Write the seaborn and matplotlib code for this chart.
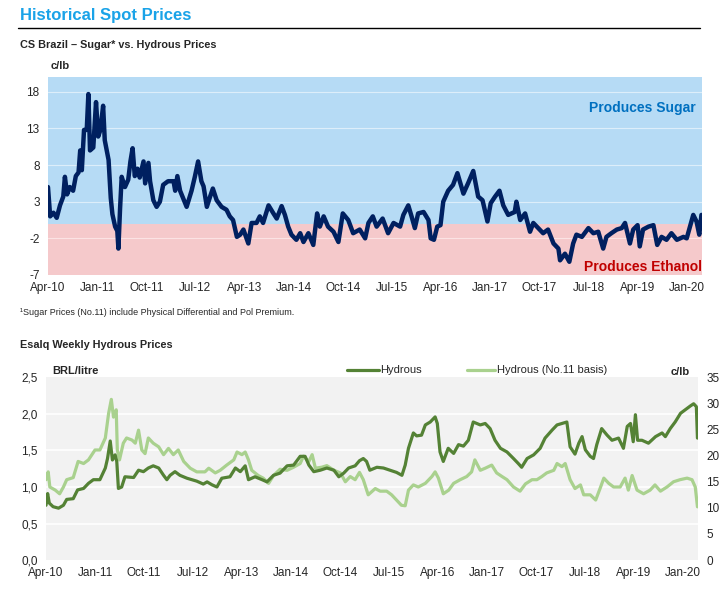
import matplotlib
matplotlib.use("Agg")
import matplotlib.pyplot as plt
import seaborn as sns

# x positions are months counted from Apr-10
date_labels = ['Apr-10', 'Jan-11', 'Oct-11', 'Jul-12', 'Apr-13', 'Jan-14', 'Oct-14',
               'Jul-15', 'Apr-16', 'Jan-17', 'Oct-17', 'Jul-18', 'Apr-19', 'Jan-20']
label_months = [0, 9, 18, 27, 36, 45, 54, 63, 72, 81, 90, 99, 108, 117]

# Sugar (No.11 incl. differentials) minus hydrous equivalent, c/lb
spread_months = [0, 0.4, 1.0, 1.6, 2.2, 2.8, 3.1, 3.5, 4.0, 4.6, 5.1, 5.6, 5.9, 6.2, 6.6,
                 7.1, 7.4, 7.7, 8.3, 8.8, 9.2, 9.6, 10.1, 10.4, 11.1, 11.5, 11.8, 12.3,
                 12.7, 12.9, 13.2, 13.5, 14.1, 14.7, 15.1, 15.5, 15.9, 16.4, 16.8, 17.5,
                 17.8, 18.4, 18.7, 19.3, 19.9, 20.5, 21.1, 22.0, 23.0, 23.3, 23.7, 24.2,
                 25.4, 26.3, 26.9, 27.5, 28.1, 28.5, 29.1, 29.7, 30.2, 30.9, 31.8, 32.7,
                 33.3, 33.9, 34.6, 35.2, 35.8, 36.7, 37.3, 38.2, 38.8, 39.4, 40.4, 41.3,
                 41.9, 42.8, 43.4, 44.0, 44.6, 45.5, 46.2, 46.8, 47.7, 48.6, 49.3, 49.8,
                 50.5, 51.3, 52.3, 53.2, 54.0, 55.0, 55.9, 57.1, 58.1, 58.7, 59.5, 60.2,
                 61.3, 62.3, 63.3, 64.5, 65.1, 66.0, 66.6, 67.2, 67.8, 68.8, 69.7, 70.1,
                 70.7, 71.3, 71.9, 72.4, 73.3, 74.2, 75.0, 76.1, 77.0, 77.9, 78.8, 79.6,
                 80.5, 81.1, 81.9, 82.7, 83.4, 84.3, 85.5, 85.8, 86.5, 87.4, 88.3, 88.9,
                 89.8, 90.7, 91.6, 92.6, 93.5, 93.8, 94.7, 95.5, 96.2, 96.8, 97.8, 99.0,
                 99.9, 100.8, 101.7, 102.3, 103.2, 104.2, 105.1, 105.7, 106.6, 107.2,
                 108.0, 108.4, 109.0, 110.0, 110.9, 111.6, 112.4, 113.3, 114.2, 115.2,
                 116.4, 117.0, 117.6, 118.2, 118.8, 119.3, 119.7]
spread_values = [5.0, 1.0, 1.5, 0.8, 2.5, 3.7, 6.4, 4.0, 5.0, 4.5, 6.5, 7.0, 10.0, 7.3, 12.8,
                 12.8, 17.7, 10.0, 10.4, 16.6, 11.9, 12.8, 16.1, 11.4, 8.7, 3.5, 1.3, -0.4,
                 -1.0, -3.4, 2.0, 6.4, 5.0, 6.0, 8.5, 10.3, 6.5, 7.5, 6.3, 8.5,
                 5.5, 8.3, 5.8, 3.2, 2.3, 3.0, 5.3, 5.8, 5.8, 4.5, 6.5, 4.5,
                 2.3, 4.5, 6.4, 8.5, 5.8, 5.1, 2.3, 3.7, 4.8, 3.2, 2.3, 1.9,
                 1.0, 0.5, -1.8, -1.5, -0.8, -2.7, 0.1, 0.1, 1.0, 0.1, 2.5, 1.4,
                 0.7, 2.4, 1.2, -0.4, -1.5, -2.2, -1.3, -2.5, -1.3, -2.9, 1.4, -0.4,
                 1.0, -0.4, -1.1, -2.5, 1.4, 0.5, -1.3, -0.8, -2.0, 0.1, 1.0, -0.4,
                 0.7, -1.3, 0.1, -0.4, 1.2, 2.5, 1.0, -0.6, 1.4, 1.6, 0.5, -2.0,
                 -2.2, -0.4, -0.2, 3.0, 4.5, 5.3, 6.9, 4.1, 5.6, 7.2, 3.7, 3.2,
                 0.3, 2.8, 3.7, 4.5, 2.5, 1.2, 1.6, 3.0, 0.5, 1.4, -1.1, 0.1,
                 -0.6, -1.3, -0.8, -2.7, -3.4, -5.0, -4.1, -5.2, -2.7, -1.5, -1.8, -0.6,
                 -1.3, -1.1, -3.4, -1.8, -1.3, -0.8, -0.6, 0.1, -2.7, -0.8,
                 -0.2, -3.1, -0.8, -0.4, -0.2, -2.9, -1.8, -2.2, -1.3, -2.2,
                 -1.8, -2.0, -0.4, 1.2, 0.3, -1.5, 1.2]

# Esalq hydrous, BRL/litre
hydrous_months = [0, 0.3, 0.6, 1.3, 2.3, 3.2, 3.8, 5.0, 5.8, 6.9, 7.8, 8.7, 9.9, 10.9, 11.3,
                  11.8, 12.2, 12.7, 13.0, 13.3, 13.9, 14.5, 16.1, 17.0, 17.9, 18.8, 19.7,
                  20.7, 21.6, 22.2, 22.8, 23.7, 24.6, 25.9, 27.7, 28.9, 29.6, 30.5, 31.4,
                  32.3, 33.8, 34.8, 35.7, 36.6, 37.2, 38.4, 39.7, 40.6, 41.8, 43.0, 44.3,
                  45.5, 46.7, 47.6, 48.3, 49.2, 50.4, 51.6, 52.9, 53.8, 54.7, 55.6, 56.8,
                  57.6, 58.3, 58.9, 59.5, 60.8, 62.0, 63.2, 64.4, 65.4, 66.0, 66.6, 67.5,
                  68.1, 69.0, 69.7, 70.6, 71.5, 71.9, 72.4, 73.0, 73.9, 74.9, 75.8, 76.7,
                  77.6, 78.5, 79.8, 80.7, 81.6, 82.5, 83.5, 84.7, 85.9, 86.8, 87.4, 88.4,
                  89.6, 90.8, 91.7, 93.0, 93.9, 94.8, 95.7, 96.3, 97.2, 97.9, 98.5, 99.1,
                  100.0, 100.6, 101.2, 102.1, 103.1, 104.0, 105.2, 106.1, 106.8, 107.4,
                  107.9, 108.3, 108.7, 109.5, 110.7, 112.0, 113.2, 113.8, 114.7, 115.6,
                  116.6, 117.5, 118.4, 119.0, 119.5, 119.7]
hydrous_brl = [0.75, 0.91, 0.78, 0.73, 0.71, 0.75, 0.83, 0.84, 0.96, 0.98, 1.05, 1.10, 1.10,
               1.26, 1.39, 1.63, 1.37, 1.44, 1.35, 0.98, 1.00, 1.14, 1.13, 1.23, 1.21, 1.26,
               1.29, 1.26, 1.16, 1.10, 1.16, 1.21, 1.16, 1.12, 1.08, 1.04, 1.07, 1.03, 1.00,
               1.12, 1.14, 1.26, 1.21, 1.29, 1.10, 1.14, 1.10, 1.07, 1.16, 1.19, 1.29,
               1.30, 1.42, 1.42, 1.30, 1.21, 1.23, 1.26, 1.23, 1.14, 1.19, 1.26, 1.29,
               1.36, 1.39, 1.35, 1.23, 1.27, 1.26, 1.23, 1.20, 1.16, 1.30, 1.53, 1.74,
               1.70, 1.71, 1.85, 1.89, 1.96, 1.87, 1.48, 1.35, 1.53, 1.46, 1.58, 1.56,
               1.64, 1.89, 1.85, 1.87, 1.80, 1.64, 1.53, 1.48, 1.39, 1.32, 1.27, 1.39,
               1.44, 1.53, 1.67, 1.78, 1.85, 1.87, 1.89, 1.55, 1.45, 1.60, 1.69, 1.51,
               1.42, 1.39, 1.58, 1.80, 1.71, 1.64, 1.67, 1.53, 1.83, 1.87,
               1.62, 1.99, 1.64, 1.64, 1.60, 1.69, 1.74, 1.69, 1.80, 1.89,
               2.01, 2.06, 2.11, 2.14, 2.10, 1.67]

# Hydrous on No.11 basis, c/lb
basis_months = [0, 0.4, 0.7, 1.7, 2.5, 3.2, 3.8, 5.0, 5.9, 6.9, 7.8, 9.0, 9.9, 10.9, 11.5,
                12.0, 12.4, 12.9, 13.1, 13.5, 14.2, 14.8, 15.8, 16.4, 17.0, 17.6, 18.2,
                18.8, 19.7, 20.7, 21.6, 22.5, 23.4, 24.3, 25.3, 26.5, 27.7, 29.2, 29.9,
                31.1, 32.0, 33.2, 34.5, 35.1, 36.0, 36.6, 37.2, 37.8, 39.0, 39.9, 40.9,
                41.8, 43.0, 44.3, 45.5, 46.7, 47.3, 48.3, 48.9, 49.5, 50.7, 51.6, 52.9,
                54.1, 55.0, 55.9, 56.8, 57.6, 58.3, 59.2, 60.5, 61.4, 62.6, 63.5, 64.4,
                65.3, 66.0, 66.6, 67.5, 68.4, 69.7, 70.9, 71.5, 72.1, 73.0, 74.0, 74.9,
                76.1, 77.3, 78.2, 78.8, 79.8, 80.7, 81.9, 82.8, 83.8, 84.7, 85.9, 87.1,
                88.1, 89.3, 90.2, 91.1, 92.0, 93.3, 93.9, 94.8, 95.4, 96.3, 97.2, 98.2,
                98.8, 100.0, 101.0, 101.8, 102.5, 103.4, 104.3, 105.5, 106.4, 107.0,
                107.7, 108.6, 109.8, 111.0, 111.9, 112.9, 114.1, 115.3, 116.5, 117.8,
                118.7, 119.3, 119.7]
basis_clb = [15.4, 16.9, 14.0, 13.4, 12.7, 14.0, 15.4, 15.8, 18.9, 18.5, 19.2, 21.1, 21.1,
             23.4, 28.1, 30.8, 27.4, 28.8, 21.1, 19.2, 22.4, 23.4, 23.0, 22.4, 24.9, 21.1,
             20.4, 23.4, 22.4, 21.7, 20.2, 21.4, 20.2, 21.1, 18.9, 17.6, 16.9, 16.9, 17.6,
             16.7, 17.2, 18.2, 19.2, 20.7, 20.2, 20.7, 19.2, 17.2, 16.2, 15.7, 14.7,
             16.2, 17.4, 17.2, 17.8, 18.5, 19.9, 18.9, 20.2, 17.6, 17.8, 18.1, 17.2,
             16.7, 15.0, 16.0, 15.4, 16.8, 15.4, 12.5, 13.7, 13.2, 13.2, 12.5, 11.5,
             10.5, 10.4, 13.4, 14.4, 14.0, 14.7, 16.0, 16.9, 15.7, 12.7, 13.4, 14.7,
             15.4, 16.0, 16.9, 19.2, 17.2, 17.6, 18.2, 16.7, 16.0, 15.4, 14.0, 13.2,
             14.6, 15.4, 15.4, 16.0, 16.7, 17.2, 18.5, 17.9, 18.5, 15.4, 13.7, 14.4,
             12.5, 12.5, 11.5, 13.7, 15.7, 14.7, 14.0, 14.0, 15.7, 13.4,
             16.2, 13.4, 12.7, 13.4, 14.4, 13.2, 14.0, 15.0, 15.4, 15.7,
             15.4, 14.0, 10.2]

top_ticks = [-7, -2, 3, 8, 13, 18]
left_ticks = [0.0, 0.5, 1.0, 1.5, 2.0, 2.5]
right_ticks = [0, 5, 10, 15, 20, 25, 30, 35]

sns.set_style("white")
plt.rcParams['font.family'] = ['Liberation Sans', 'DejaVu Sans']
plt.rcParams['axes.unicode_minus'] = False

fig = plt.figure(figsize=(7.27, 6.03), dpi=100)

# Header
fig.text(0.027, 0.975, "Historical Spot Prices", fontsize=12, fontweight='bold',
         color='#1AA3E8', va='center')
fig.add_artist(plt.Line2D([0.025, 0.963], [0.953, 0.953], color='black', linewidth=1.0))
fig.text(0.027, 0.925, "CS Brazil \u2013 Sugar* vs. Hydrous Prices", fontsize=7.8,
         fontweight='bold', va='center')

# Top chart: sugar vs hydrous spread
ax1 = fig.add_axes([0.066, 0.544, 0.8996, 0.328])
ax1.axhspan(0, 20, color='#B6DBF5', zorder=0, linewidth=0)
ax1.axhspan(-7, 0, color='#F5C9CB', zorder=0, linewidth=0)
for t in top_ticks[1:]:
    ax1.axhline(t, color='#DDEEFA' if t > 0 else '#FBE3E4', linewidth=0.8, zorder=1)
sns.lineplot(x=spread_months, y=spread_values, ax=ax1, color='#002060', linewidth=3.2,
             zorder=3)
ax1.set_xlim(0, 119.8)
ax1.set_ylim(-7, 20)
ax1.set_yticks(top_ticks)
ax1.set_xticks(label_months)
ax1.set_xticklabels(date_labels)
ax1.tick_params(axis='both', labelsize=8.5, length=0, pad=6)
ax1.tick_params(axis='x', pad=5)
ax1.set_xlabel('')
ax1.set_ylabel('')
for s in ax1.spines.values():
    s.set_visible(False)
ax1.text(0.004, 1.03, "c/lb", transform=ax1.transAxes, fontsize=8, fontweight='bold',
         va='bottom')
ax1.text(0.99, 0.845, "Produces Sugar", transform=ax1.transAxes, fontsize=10,
         fontweight='bold', color='#0070C0', ha='right', va='center')
ax1.text(1.0, 0.04, "Produces Ethanol", transform=ax1.transAxes, fontsize=10,
         fontweight='bold', color='#C00000', ha='right', va='center')

fig.text(0.027, 0.481, "\u00b9Sugar Prices (No.11) include Physical Differential and Pol Premium.",
         fontsize=6.5, va='center')
fig.text(0.027, 0.428, "Esalq Weekly Hydrous Prices", fontsize=7.8, fontweight='bold',
         va='center')

# Bottom chart: Esalq hydrous prices (light series on right axis, drawn underneath)
ax2 = fig.add_axes([0.0633, 0.0713, 0.8968, 0.3027])
ax3 = ax2.twinx()
ax3.set_zorder(0)
ax2.set_zorder(1)
ax2.patch.set_visible(False)
ax3.patch.set_visible(True)
ax3.patch.set_facecolor('#F2F2F2')
for t in left_ticks[1:-1]:
    ax3.axhline(t * 14, color='white', linewidth=1.2, zorder=1)

sns.lineplot(x=basis_months, y=basis_clb, ax=ax3, color='#A9D18E', linewidth=2.3, zorder=2)
sns.lineplot(x=hydrous_months, y=hydrous_brl, ax=ax2, color='#548235', linewidth=2.3,
             zorder=3)

ax2.set_xlim(0, 119.8)
ax2.set_ylim(0, 2.5)
ax2.set_yticks(left_ticks)
ax2.set_yticklabels([f"{v:.1f}".replace('.', ',') for v in left_ticks])
ax2.set_xticks(label_months)
ax2.set_xticklabels(date_labels)
ax2.tick_params(axis='both', labelsize=8.5, length=0, pad=6)
ax2.tick_params(axis='x', pad=5)
ax2.set_xlabel('')
ax2.set_ylabel('')
ax3.set_ylim(0, 35)
ax3.set_yticks(right_ticks)
ax3.tick_params(axis='y', labelsize=8.5, length=0, pad=6)
ax3.set_ylabel('')
for a in (ax2, ax3):
    for s in a.spines.values():
        s.set_visible(False)

ax2.text(0.01, 1.01, "BRL/litre", transform=ax2.transAxes, fontsize=8, fontweight='bold',
         va='bottom')
ax2.text(0.988, 1.005, "c/lb", transform=ax2.transAxes, fontsize=8, fontweight='bold',
         va='bottom', ha='right')

# Legend drawn as line keys with text, like the source
fig.add_artist(plt.Line2D([0.477, 0.522], [0.387, 0.387], color='#548235', linewidth=2.3))
fig.text(0.523, 0.387, "Hydrous", fontsize=8, va='center')
fig.add_artist(plt.Line2D([0.642, 0.681], [0.387, 0.387], color='#A9D18E', linewidth=2.3))
fig.text(0.683, 0.387, "Hydrous (No.11 basis)", fontsize=8, va='center')

fig.savefig("out.png", dpi=100)
